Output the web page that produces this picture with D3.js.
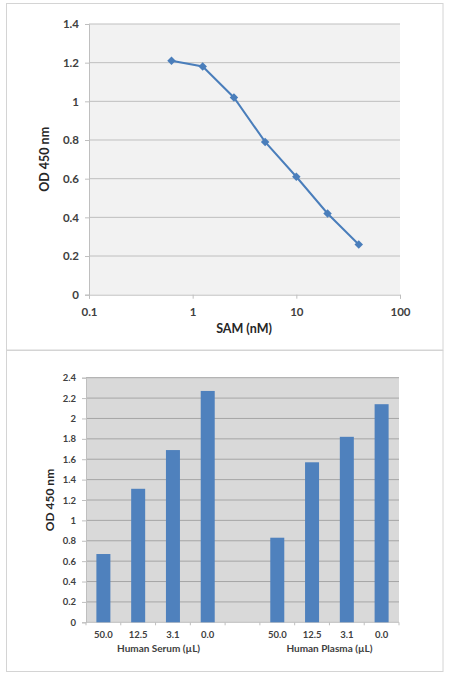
<!DOCTYPE html>
<html>
<head>
<meta charset="utf-8">
<script src="https://cdn.jsdelivr.net/npm/d3@7"></script>
<style>
    body { margin: 0; background: #fff; }
    svg { display: block; font-family: Lato, "Open Sans", sans-serif; font-weight: bold; }
</style>
</head>
<body>
<div id="chart"></div>
<script>
// top chart: SAM standard curve
const samConc = [0.625, 1.25, 2.5, 5, 10, 20, 40];
const samOD = [1.21, 1.18, 1.02, 0.79, 0.61, 0.42, 0.26];
const samYTicks = [0, 0.2, 0.4, 0.6, 0.8, 1, 1.2, 1.4];
const samXTicks = [0.1, 1, 10, 100];

// bottom chart: serum / plasma samples
const sampleLabels = ['50.0', '12.5', '3.1', '0.0', '', '50.0', '12.5', '3.1', '0.0'];
const sampleOD = [0.67, 1.31, 1.69, 2.27, null, 0.83, 1.57, 1.82, 2.14];
const groupNames = ['Human Serum (\u00b5L)', 'Human Plasma (\u00b5L)'];
const groupSlots = [[0, 3], [5, 8]];
const barYTicks = [0, 0.2, 0.4, 0.6, 0.8, 1, 1.2, 1.4, 1.6, 1.8, 2, 2.2, 2.4];

const W = 449, H = 676;
const svg = d3.select('#chart').append('svg').attr('width', W).attr('height', H);

// panel borders
svg.append('rect').attr('x', 6.5).attr('y', 3.5).attr('width', 436.5).attr('height', 346.5)
    .attr('fill', 'none').attr('stroke', '#d4d4d4');
svg.append('rect').attr('x', 6.5).attr('y', 350.5).attr('width', 436.5).attr('height', 321)
    .attr('fill', 'none').attr('stroke', '#d4d4d4');

// ---------- line chart ----------
const lineBox = {left: 89, right: 400, top: 24, bottom: 294.7};

const x1 = d3.scaleLog().domain([0.1, 100]).range([lineBox.left, lineBox.right]);
const y1 = d3.scaleLinear().domain([0, 1.4]).range([lineBox.bottom, lineBox.top]);

svg.append('rect')
    .attr('x', lineBox.left).attr('y', lineBox.top)
    .attr('width', lineBox.right - lineBox.left).attr('height', lineBox.bottom - lineBox.top)
    .attr('fill', '#f2f2f2');

// gridlines
svg.append('g').selectAll('line').data(samYTicks.filter(d => d > 0)).join('line')
    .attr('x1', lineBox.left).attr('x2', lineBox.right)
    .attr('y1', d => y1(d)).attr('y2', d => y1(d))
    .attr('stroke', '#bfbfbf').attr('stroke-width', 1);

const yAx1 = svg.append('g')
    .attr('transform', `translate(${lineBox.left},0)`)
    .call(d3.axisLeft(y1).tickValues(samYTicks).tickSize(4).tickPadding(6).tickFormat(d3.format('')));
const xAx1 = svg.append('g')
    .attr('transform', `translate(0,${lineBox.bottom})`)
    .call(d3.axisBottom(x1).tickValues(samXTicks).tickSize(4).tickPadding(9).tickFormat(d => d));

[yAx1, xAx1].forEach(g => {
    g.select('.domain').attr('stroke', '#bfbfbf');
    g.selectAll('.tick line').attr('stroke', '#bfbfbf');
    g.selectAll('.tick text').attr('fill', '#404040')
        .style('font-family', 'Lato, sans-serif').style('font-weight', 'bold').style('font-size', '11.5px');
});

const pts = samConc.map((c, i) => ({c: c, v: samOD[i]}));
svg.append('path').datum(pts)
    .attr('fill', 'none').attr('stroke', '#4a7ebb').attr('stroke-width', 2)
    .attr('d', d3.line().x(d => x1(d.c)).y(d => y1(d.v)));
// diamond markers = squares turned 45deg
svg.append('g').selectAll('path').data(pts).join('path')
    .attr('transform', d => `translate(${x1(d.c)},${y1(d.v)}) rotate(45)`)
    .attr('d', d3.symbol(d3.symbolSquare, 36))
    .attr('fill', '#4a7ebb');

svg.append('text')
    .attr('transform', `translate(49,${(lineBox.top + lineBox.bottom) / 2}) rotate(-90)`)
    .attr('text-anchor', 'middle').attr('font-size', 12.5).attr('fill', '#262626')
    .text('OD 450 nm');
svg.append('text')
    .attr('x', 244).attr('y', 333)
    .attr('text-anchor', 'middle').attr('font-size', 12.5).attr('fill', '#262626')
    .text('SAM (nM)');

// ---------- bar chart ----------
const barBox = {left: 86, right: 399, top: 377.7, bottom: 622.3};

const x2 = d3.scaleBand().domain(d3.range(sampleLabels.length)).range([barBox.left, barBox.right]);
const y2 = d3.scaleLinear().domain([0, 2.4]).range([barBox.bottom, barBox.top]);

svg.append('rect')
    .attr('x', barBox.left).attr('y', barBox.top)
    .attr('width', barBox.right - barBox.left).attr('height', barBox.bottom - barBox.top)
    .attr('fill', '#d9d9d9');

svg.append('g').selectAll('line').data(barYTicks.filter(d => d > 0)).join('line')
    .attr('x1', barBox.left).attr('x2', barBox.right)
    .attr('y1', d => y2(d)).attr('y2', d => y2(d))
    .attr('stroke', '#a6a6a6').attr('stroke-width', 1);

const yAx2 = svg.append('g')
    .attr('transform', `translate(${barBox.left},0)`)
    .call(d3.axisLeft(y2).tickValues(barYTicks).tickSize(4).tickPadding(6).tickFormat(d3.format('')));
yAx2.select('.domain').attr('stroke', '#bfbfbf');
yAx2.selectAll('.tick line').attr('stroke', '#bfbfbf');
yAx2.selectAll('.tick text').attr('fill', '#404040')
    .style('font-family', 'Lato, sans-serif').style('font-weight', 'bold').style('font-size', '9.5px');

// x axis line and category boundary ticks
const xg = svg.append('g');
xg.append('line').attr('x1', barBox.left).attr('x2', barBox.right)
    .attr('y1', barBox.bottom).attr('y2', barBox.bottom).attr('stroke', '#bfbfbf');
xg.selectAll('.bt').data(d3.range(sampleLabels.length + 1)).join('line')
    .attr('class', 'bt')
    .attr('x1', i => barBox.left + i * x2.step()).attr('x2', i => barBox.left + i * x2.step())
    .attr('y1', barBox.bottom).attr('y2', barBox.bottom + 3).attr('stroke', '#bfbfbf');

const barW = 14;
svg.append('g').selectAll('rect')
    .data(sampleOD.map((v, i) => ({i: i, v: v})).filter(d => d.v !== null))
    .join('rect')
    .attr('x', d => x2(d.i) + x2.bandwidth() / 2 - barW / 2)
    .attr('width', barW)
    .attr('y', d => y2(d.v))
    .attr('height', d => y2(0) - y2(d.v))
    .attr('fill', '#4f81bd');

svg.append('g').selectAll('text').data(sampleLabels).join('text')
    .attr('x', (d, i) => x2(i) + x2.bandwidth() / 2)
    .attr('y', 638)
    .attr('text-anchor', 'middle').attr('font-size', 9.5).attr('fill', '#404040')
    .text(d => d);

svg.append('g').selectAll('text').data(groupNames).join('text')
    .attr('x', (d, i) => (x2(groupSlots[i][0]) + x2(groupSlots[i][1]) + x2.bandwidth()) / 2 + (i === 0 ? 3 : 0))
    .attr('y', 651.5)
    .attr('text-anchor', 'middle').attr('font-size', 10).attr('fill', '#404040')
    .text(d => d);

svg.append('text')
    .attr('transform', `translate(54,${(barBox.top + barBox.bottom) / 2}) rotate(-90)`)
    .attr('text-anchor', 'middle').attr('font-size', 12).attr('fill', '#262626')
    .text('OD 450 nm');
</script>
</body>
</html>
